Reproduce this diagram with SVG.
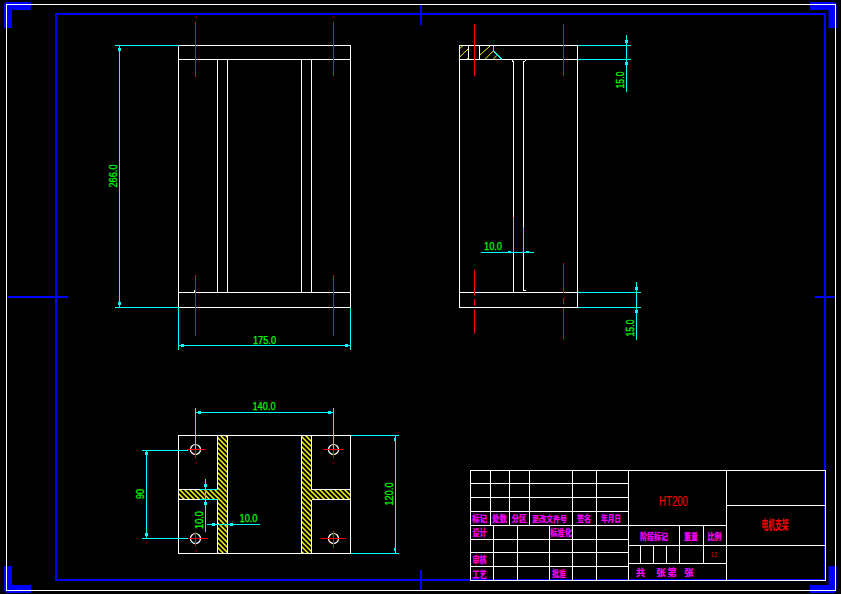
<svg xmlns="http://www.w3.org/2000/svg" width="841" height="594" viewBox="0 0 841 594">
<style>
.w{stroke:#fff;stroke-width:1;fill:none;shape-rendering:crispEdges}
.b{stroke:#00f;stroke-width:2;fill:none;shape-rendering:crispEdges}
.c{stroke:#0ff;stroke-width:1;fill:none;shape-rendering:crispEdges}
.r{stroke:#f00;stroke-width:1;fill:none;shape-rendering:crispEdges}
.y{stroke:#ff0;stroke-width:1;fill:none}
.k{fill:#0ff;stroke:none}
.g{fill:#0f0;stroke:#0f0;stroke-width:.25;font-family:"Liberation Sans",sans-serif;font-size:11px;text-anchor:middle}
.m{fill:#f0f;stroke:#f0f;stroke-width:.2;font-family:"Noto Sans CJK SC","Liberation Sans",sans-serif;font-size:9.5px;font-weight:700;text-anchor:middle}
.t{fill:#f00;font-family:"Noto Sans CJK SC","Liberation Sans",sans-serif;text-anchor:middle}
</style>
<defs>
<pattern id="h" width="5" height="5" patternUnits="userSpaceOnUse"><path d="M-1 -1L6 6M-1 4L1 6M4 -1L6 1" stroke="#ff0" stroke-width="1.5"/></pattern>
</defs>
<rect width="841" height="594" fill="#000"/>

<g id="border">
<path d="M31 6H8V28M810 6H832.500V28M31 589H8V566M810 589H832.500V566" fill="none" stroke="#00f" stroke-width="8" stroke-linejoin="round"/>
<rect class="b" x="56" y="14" width="769" height="566"/>
<path class="b" d="M421 4V25M421 570V590M8 297H68M815 297H835"/>
<rect class="w" x="6.500" y="4.500" width="829" height="586"/>
</g>

<g id="view-front">
<rect class="w" x="178.500" y="45.500" width="172" height="262"/>
<path class="w" d="M178.500 59.500H350.500M178.500 292.500H350.500M217.500 59.500V292.500M227.500 59.500V292.500M301.500 59.500V292.500M311.500 59.500V292.500M194.500 290V292.500"/>
<path class="r" d="M195.500 22V77M333.500 22V76M195.500 275V336M333.500 275V336"/>
<path class="c" d="M115 45.500H178.500M115 307.500H178.500M119.500 45.500V307.500M178.500 307.500V350M350.500 307.500V350M178.500 345.500H350.500"/>
<rect class="k" x="118" y="48" width="3" height="3"/><rect class="k" x="118" y="302" width="3" height="3"/>
<rect class="k" x="181" y="344" width="3" height="3"/><rect class="k" x="345" y="344" width="3" height="3"/>
<text class="g" transform="translate(117 176) rotate(-90)" textLength="23" lengthAdjust="spacingAndGlyphs">266.0</text>
<text class="g" x="264.500" y="343.500" textLength="23" lengthAdjust="spacingAndGlyphs">175.0</text>
</g>

<g id="view-side">
<rect class="w" x="459.500" y="45.500" width="118" height="262"/>
<path class="w" d="M459.500 59.500H577.500M459.500 292.500H577.500M468.500 45.500V59.500M479.500 45.500V59.500M513.500 62V292.500M523.500 62V290.500M512 60L513.500 62M523.500 62L526 60M523.500 290.500H526"/>
<path class="y" d="M460 48.300L462.700 46M460 56.700L468 49M467.300 59L468.300 57.700M480 55L490 46M485.300 59L493.300 51M493.300 59L496.700 55.700"/>
<path class="c" d="M493.500 46V51M493.500 51L502 59.500"/>
<path class="r" d="M474.500 24V76M563.500 24V76M474.500 270V295M474.500 299V305M474.500 309V334M563.500 263V293M563.500 298V304M563.500 308V339"/>
<path class="c" d="M577.500 45.500H631M577.500 59.500H631M626.500 35V92M577.500 292.500H641M577.500 307.500H641M636.500 282V340M481 252.500H534M513.500 217V252.500M523.500 227V252.500"/>
<rect class="k" x="625" y="40" width="3" height="3"/><rect class="k" x="625" y="62" width="3" height="3"/>
<rect class="k" x="635" y="287" width="3" height="3"/><rect class="k" x="635" y="310" width="3" height="3"/>
<rect class="k" x="508" y="251" width="3" height="1"/><rect class="k" x="526" y="251" width="3" height="1"/>
<text class="g" transform="translate(623.500 80) rotate(-90)" textLength="17" lengthAdjust="spacingAndGlyphs">15.0</text>
<text class="g" transform="translate(633.500 328) rotate(-90)" textLength="17" lengthAdjust="spacingAndGlyphs">15.0</text>
<text class="g" x="493" y="250" textLength="18" lengthAdjust="spacingAndGlyphs">10.0</text>
</g>

<g id="view-plan">
<rect fill="url(#h)" x="218" y="436" width="10" height="117"/>
<rect fill="url(#h)" x="302" y="436" width="10" height="117"/>
<rect fill="url(#h)" x="179" y="490" width="39" height="10"/>
<rect fill="url(#h)" x="312" y="490" width="38" height="10"/>
<rect class="w" x="178.500" y="435.500" width="172" height="118"/>
<path class="w" d="M217.500 435.500V489.500M217.500 499.500V553.500M227.500 435.500V553.500M301.500 435.500V553.500M311.500 435.500V489.500M311.500 499.500V553.500M178.500 489.500H217.500M178.500 499.500H217.500M311.500 489.500H350.500M311.500 499.500H350.500"/>
<g fill="none" stroke="#fff" stroke-width="1.200"><circle cx="195.500" cy="449.500" r="5"/><circle cx="333.500" cy="449.500" r="5"/><circle cx="195.500" cy="538.500" r="5"/><circle cx="333.500" cy="538.500" r="5"/></g>
<path class="r" d="M187 449.500H206M195.500 443V458M323 449.500H343M333.500 442V458M188 538.500H208M195.500 532V546M321 538.500H346M333.500 531V548"/>
<path class="c" d="M195.500 408V449M333.500 408V449M195.500 412.500H333.500M142 450.500H188M142 538.500H188M146.500 450.500V538.500M350.500 435.500H399M350.500 553.500H399M395.500 435.500V553.500M200 489.500H218M200 499.500H218M205.500 479V532M207 524.500H260"/>
<rect class="k" x="198" y="411" width="3" height="3"/><rect class="k" x="328" y="411" width="3" height="3"/>
<rect class="k" x="145" y="452" width="3" height="3"/><rect class="k" x="145" y="533" width="3" height="3"/>
<rect class="k" x="394" y="438" width="2" height="3"/><rect class="k" x="394" y="548" width="2" height="3"/>
<rect class="k" x="204" y="484" width="3" height="3"/><rect class="k" x="204" y="502" width="3" height="3"/>
<rect class="k" x="212" y="523" width="3" height="3"/><rect class="k" x="230" y="523" width="3" height="3"/>
<text class="g" x="264" y="410" textLength="23" lengthAdjust="spacingAndGlyphs">140.0</text>
<text class="g" transform="translate(144 494) rotate(-90)" textLength="10" lengthAdjust="spacingAndGlyphs">90</text>
<text class="g" transform="translate(393 494) rotate(-90)" textLength="23" lengthAdjust="spacingAndGlyphs">120.0</text>
<text class="g" transform="translate(203 520) rotate(-90)" textLength="18" lengthAdjust="spacingAndGlyphs">10.0</text>
<text class="g" x="248.500" y="522" textLength="18" lengthAdjust="spacingAndGlyphs">10.0</text>
</g>

<g id="title-block">
<rect class="w" x="470.500" y="470.500" width="355" height="110"/>
<path class="w" d="M470.500 483.500H628.500M470.500 497.500H628.500M470.500 511.500H628.500M470.500 525.500H726.500M470.500 539.500H628.500M470.500 552.500H628.500M470.500 566.500H628.500M628.500 545.500H825.500M628.500 563.500H726.500M726.500 505.500H825.500M490.500 470.500V525.500M509.500 470.500V525.500M529.500 470.500V525.500M572.500 470.500V580.500M596.500 470.500V580.500M628.500 470.500V580.500M726.500 470.500V580.500M493.500 525.500V580.500M517.500 525.500V580.500M549.500 525.500V580.500M679.500 525.500V563.500M703.500 525.500V563.500M640.500 545.500V563.500M653.500 545.500V563.500M666.500 545.500V563.500"/>
<g class="m">
<text x="479.500" y="522" textLength="15" lengthAdjust="spacingAndGlyphs">标记</text>
<text x="499.500" y="522" textLength="15" lengthAdjust="spacingAndGlyphs">处数</text>
<text x="519" y="522" textLength="15" lengthAdjust="spacingAndGlyphs">分区</text>
<text x="549.500" y="522" textLength="35" lengthAdjust="spacingAndGlyphs" font-size="8.500" style="font-size:8.500px">更改文件号</text>
<text x="584" y="522" textLength="14" lengthAdjust="spacingAndGlyphs">签名</text>
<text x="611" y="522" textLength="20" lengthAdjust="spacingAndGlyphs">年月日</text>
<text x="479.500" y="536" textLength="14" lengthAdjust="spacingAndGlyphs">设计</text>
<text x="561" y="536" textLength="22" lengthAdjust="spacingAndGlyphs">标准化</text>
<text x="479.500" y="563" textLength="14" lengthAdjust="spacingAndGlyphs">审核</text>
<text x="479.500" y="577.500" textLength="14" lengthAdjust="spacingAndGlyphs">工艺</text>
<text x="559" y="577" textLength="14" lengthAdjust="spacingAndGlyphs">批准</text>
<text x="654" y="540" textLength="28" lengthAdjust="spacingAndGlyphs">阶段标记</text>
<text x="691" y="540" textLength="14" lengthAdjust="spacingAndGlyphs">重量</text>
<text x="714.500" y="540" textLength="14" lengthAdjust="spacingAndGlyphs">比例</text>
<text x="640.500" y="576">共</text>
<text x="661" y="576">张</text>
<text x="672" y="576">第</text>
<text x="689" y="576">张</text>
</g>
<text class="t" x="673.500" y="506" font-size="15" textLength="29" lengthAdjust="spacingAndGlyphs" style="font-family:'Liberation Sans',sans-serif">HT200</text>
<text class="t" x="775" y="529" font-size="13" font-weight="700" textLength="27" lengthAdjust="spacingAndGlyphs">电机支架</text>
<text class="t" x="714" y="557" font-size="8" textLength="6" lengthAdjust="spacingAndGlyphs" style="font-family:'Liberation Sans',sans-serif">1:2</text>
</g>
</svg>
